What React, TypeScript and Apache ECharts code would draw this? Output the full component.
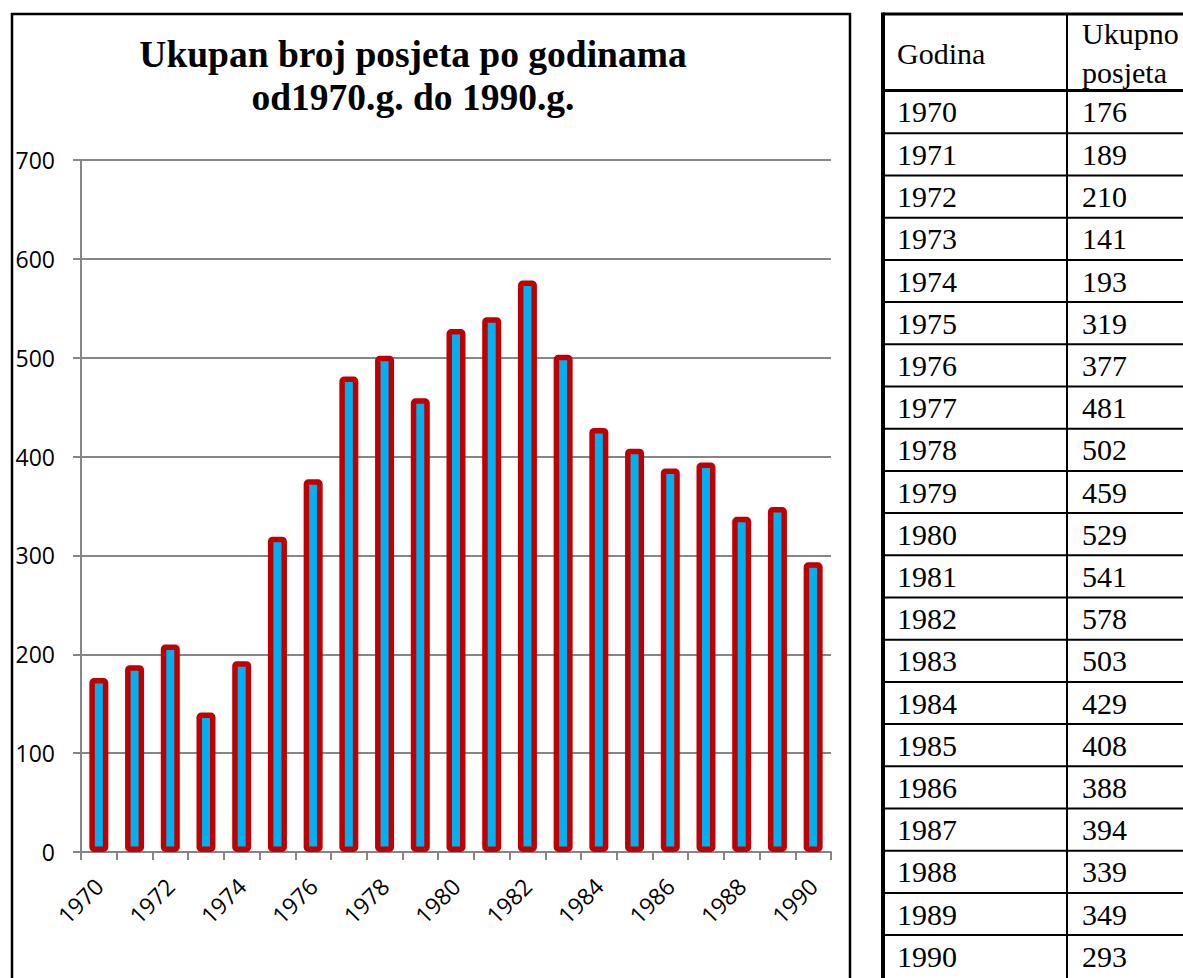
import React, { useEffect, useRef } from "react";
import * as echarts from "echarts";

const years = ["1970","1971","1972","1973","1974","1975","1976","1977","1978","1979","1980","1981","1982","1983","1984","1985","1986","1987","1988","1989","1990"];
const visits = [176,189,210,141,193,319,377,481,502,459,529,541,578,503,429,408,388,394,339,349,293];
const titleLines = ["Ukupan broj posjeta po godinama", "od1970.g. do 1990.g."];
const tableHeaders = ["Godina", "Ukupno\nposjeta"];
const yMin = 0;
const yMax = 700;
const yStep = 100;

const W = 1183;
const H = 978;

export default function App() {
  const ref = useRef<HTMLDivElement>(null);
  useEffect(() => {
    if (!ref.current) return;
    const chart = echarts.init(ref.current, null, { renderer: "svg" });
    const serif = '"Liberation Serif", "Times New Roman", serif';
    const sans = '"Open Sans", sans-serif';
    const gray = "#868686";

    // table geometry
    const tLeft = 883;
    const tTop = 14;
    const colX = 1067;
    const headBottom = 90.5;
    const firstRowLine = 133.3;
    const rowH = 42.2;
    const graphics: any[] = [];
    // chart frame
    graphics.push({
      type: "rect",
      shape: { x: 12, y: 14, width: 838, height: 1000 },
      style: { fill: "none", stroke: "#000", lineWidth: 2.5 },
      silent: true,
    });
    // table borders
    graphics.push({ type: "line", shape: { x1: tLeft, y1: tTop - 1.5, x2: tLeft, y2: H + 5 }, style: { stroke: "#000", lineWidth: 4 } });
    graphics.push({ type: "line", shape: { x1: tLeft, y1: tTop, x2: W + 5, y2: tTop }, style: { stroke: "#000", lineWidth: 3 } });
    graphics.push({ type: "line", shape: { x1: colX, y1: tTop, x2: colX, y2: H + 5 }, style: { stroke: "#000", lineWidth: 2 } });
    graphics.push({ type: "line", shape: { x1: tLeft, y1: headBottom, x2: W + 5, y2: headBottom }, style: { stroke: "#000", lineWidth: 3 } });
    // header texts
    graphics.push({
      type: "text", x: 897, y: 53,
      style: { text: tableHeaders[0], font: `30px ${serif}`, fill: "#000", align: "left", verticalAlign: "middle", textAlign: "left", textVerticalAlign: "middle" },
    });
    graphics.push({
      type: "text", x: 1082, y: 53,
      style: { text: tableHeaders[1], font: `30px ${serif}`, lineHeight: 39, fill: "#000", align: "left", verticalAlign: "middle", textAlign: "left", textVerticalAlign: "middle" },
    });
    years.forEach((yr, i) => {
      const top = i === 0 ? headBottom : firstRowLine + rowH * (i - 1);
      const bottom = firstRowLine + rowH * i;
      const cy = (top + bottom) / 2;
      if (i < years.length - 1) {
        graphics.push({ type: "line", shape: { x1: tLeft, y1: bottom, x2: W + 5, y2: bottom }, style: { stroke: "#000", lineWidth: 2 } });
      }
      graphics.push({
        type: "text", x: 897, y: cy,
        style: { text: yr, font: `30px ${serif}`, fill: "#000", align: "left", verticalAlign: "middle", textAlign: "left", textVerticalAlign: "middle" },
      });
      graphics.push({
        type: "text", x: 1082, y: cy,
        style: { text: String(visits[i]), font: `30px ${serif}`, fill: "#000", align: "left", verticalAlign: "middle", textAlign: "left", textVerticalAlign: "middle" },
      });
    });

    chart.setOption({
      animation: false,
      backgroundColor: "#fff",
      title: {
        text: titleLines.join("\n"),
        left: 408,
        top: 28,
        textAlign: "center",
        textStyle: { fontFamily: serif, fontWeight: "bold", fontSize: 37.5, lineHeight: 43, color: "#000" },
      },
      grid: { left: 81, right: W - 831, top: 160, bottom: H - 852, containLabel: false },
      xAxis: {
        type: "category",
        data: years,
        boundaryGap: true,
        axisLine: { show: true, lineStyle: { color: gray, width: 2 } },
        axisTick: { show: true, interval: 0, length: 8, lineStyle: { color: gray, width: 2 } },
        axisLabel: { interval: 1, rotate: 45, fontFamily: sans, fontSize: 23, color: "#000", margin: 30 },
        splitLine: { show: false },
      },
      yAxis: {
        type: "value",
        min: yMin,
        max: yMax,
        interval: yStep,
        axisLine: { show: true, lineStyle: { color: gray, width: 2 } },
        axisTick: { show: true, length: 8, lineStyle: { color: gray, width: 2 } },
        axisLabel: { fontFamily: sans, fontSize: 23, color: "#000", margin: 26 },
        splitLine: { show: true, lineStyle: { color: gray, width: 2 } },
      },
      series: [
        {
          type: "bar",
          data: visits,
          barWidth: 19,
          itemStyle: { color: "#00B0F0", borderColor: "#C00000", borderWidth: 5.5, borderRadius: 2 },
        },
      ],
      graphic: graphics,
    });
    return () => chart.dispose();
  }, []);
  return (
    <div
      ref={ref}
      style={{ position: "absolute", left: 0, top: 0, width: W, height: H, background: "#fff" }}
    />
  );
}
